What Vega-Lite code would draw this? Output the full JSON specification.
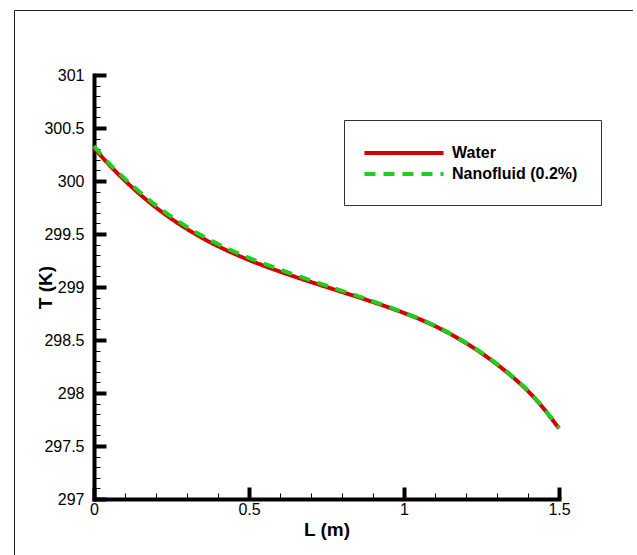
{
  "$schema": "https://vega.github.io/schema/vega-lite/v6.json",
  "width": 619,
  "height": 560,
  "autosize": {"type": "none"},
  "padding": {"left": 14, "top": 10, "right": 0, "bottom": 0},
  "background": "white",
  "config": {
    "view": {"stroke": "#222", "strokeWidth": 1, "fill": "white"},
    "axis": {
      "grid": false,
      "labelFont": "Liberation Sans",
      "labelFontSize": 16,
      "labelColor": "black",
      "titleFont": "Liberation Sans",
      "titleFontSize": 19,
      "titleFontWeight": "bold",
      "titleColor": "black",
      "domainColor": "black",
      "domainWidth": 4,
      "domainCap": "square",
      "tickColor": "black",
      "labelFlush": false,
      "labelOverlap": false
    }
  },
  "data": {
    "values": [
      {"L": 0, "T": 300.31, "series": "Water"},
      {"L": 0.05, "T": 300.15, "series": "Water"},
      {"L": 0.1, "T": 300.003, "series": "Water"},
      {"L": 0.15, "T": 299.87, "series": "Water"},
      {"L": 0.2, "T": 299.75, "series": "Water"},
      {"L": 0.25, "T": 299.643, "series": "Water"},
      {"L": 0.3, "T": 299.547, "series": "Water"},
      {"L": 0.35, "T": 299.461, "series": "Water"},
      {"L": 0.4, "T": 299.385, "series": "Water"},
      {"L": 0.45, "T": 299.317, "series": "Water"},
      {"L": 0.5, "T": 299.255, "series": "Water"},
      {"L": 0.55, "T": 299.198, "series": "Water"},
      {"L": 0.6, "T": 299.145, "series": "Water"},
      {"L": 0.65, "T": 299.095, "series": "Water"},
      {"L": 0.7, "T": 299.047, "series": "Water"},
      {"L": 0.75, "T": 299.0, "series": "Water"},
      {"L": 0.8, "T": 298.953, "series": "Water"},
      {"L": 0.85, "T": 298.906, "series": "Water"},
      {"L": 0.9, "T": 298.858, "series": "Water"},
      {"L": 0.95, "T": 298.808, "series": "Water"},
      {"L": 1.0, "T": 298.755, "series": "Water"},
      {"L": 1.05, "T": 298.697, "series": "Water"},
      {"L": 1.1, "T": 298.631, "series": "Water"},
      {"L": 1.15, "T": 298.556, "series": "Water"},
      {"L": 1.2, "T": 298.471, "series": "Water"},
      {"L": 1.25, "T": 298.376, "series": "Water"},
      {"L": 1.3, "T": 298.27, "series": "Water"},
      {"L": 1.35, "T": 298.152, "series": "Water"},
      {"L": 1.4, "T": 298.018, "series": "Water"},
      {"L": 1.45, "T": 297.855, "series": "Water"},
      {"L": 1.5, "T": 297.665, "series": "Water"},
      {"L": 0, "T": 300.33, "series": "Nanofluid (0.2%)"},
      {"L": 0.05, "T": 300.162, "series": "Nanofluid (0.2%)"},
      {"L": 0.1, "T": 300.02, "series": "Nanofluid (0.2%)"},
      {"L": 0.15, "T": 299.89, "series": "Nanofluid (0.2%)"},
      {"L": 0.2, "T": 299.77, "series": "Nanofluid (0.2%)"},
      {"L": 0.25, "T": 299.663, "series": "Nanofluid (0.2%)"},
      {"L": 0.3, "T": 299.567, "series": "Nanofluid (0.2%)"},
      {"L": 0.35, "T": 299.481, "series": "Nanofluid (0.2%)"},
      {"L": 0.4, "T": 299.405, "series": "Nanofluid (0.2%)"},
      {"L": 0.45, "T": 299.337, "series": "Nanofluid (0.2%)"},
      {"L": 0.5, "T": 299.275, "series": "Nanofluid (0.2%)"},
      {"L": 0.55, "T": 299.218, "series": "Nanofluid (0.2%)"},
      {"L": 0.6, "T": 299.165, "series": "Nanofluid (0.2%)"},
      {"L": 0.65, "T": 299.113, "series": "Nanofluid (0.2%)"},
      {"L": 0.7, "T": 299.062, "series": "Nanofluid (0.2%)"},
      {"L": 0.75, "T": 299.013, "series": "Nanofluid (0.2%)"},
      {"L": 0.8, "T": 298.964, "series": "Nanofluid (0.2%)"},
      {"L": 0.85, "T": 298.915, "series": "Nanofluid (0.2%)"},
      {"L": 0.9, "T": 298.865, "series": "Nanofluid (0.2%)"},
      {"L": 0.95, "T": 298.813, "series": "Nanofluid (0.2%)"},
      {"L": 1.0, "T": 298.759, "series": "Nanofluid (0.2%)"},
      {"L": 1.05, "T": 298.701, "series": "Nanofluid (0.2%)"},
      {"L": 1.1, "T": 298.635, "series": "Nanofluid (0.2%)"},
      {"L": 1.15, "T": 298.56, "series": "Nanofluid (0.2%)"},
      {"L": 1.2, "T": 298.475, "series": "Nanofluid (0.2%)"},
      {"L": 1.25, "T": 298.38, "series": "Nanofluid (0.2%)"},
      {"L": 1.3, "T": 298.274, "series": "Nanofluid (0.2%)"},
      {"L": 1.35, "T": 298.156, "series": "Nanofluid (0.2%)"},
      {"L": 1.4, "T": 298.022, "series": "Nanofluid (0.2%)"},
      {"L": 1.45, "T": 297.859, "series": "Nanofluid (0.2%)"},
      {"L": 1.5, "T": 297.669, "series": "Nanofluid (0.2%)"}
    ]
  },
  "mark": {"type": "line", "interpolate": "monotone", "strokeWidth": 4, "clip": false},
  "encoding": {
    "x": {
      "field": "L",
      "type": "quantitative",
      "scale": {"domain": [0, 1.5], "range": [80, 545], "nice": false, "zero": false},
      "axis": {
        "orient": "bottom",
        "offset": -71,
        "values": [0, 0.1, 0.2, 0.3, 0.4, 0.5, 0.6, 0.7, 0.8, 0.9, 1, 1.1, 1.2, 1.3, 1.4, 1.5],
        "format": "~g",
        "labelExpr": "abs(datum.value*2-round(datum.value*2))<1e-6 ? datum.label : ''",
        "labelFontSize": 16,
        "tickSize": {"condition": {"test": "abs(datum.value*2-round(datum.value*2))<1e-6", "value": -12}, "value": -6},
        "tickWidth": {"condition": {"test": "abs(datum.value*2-round(datum.value*2))<1e-6", "value": 4}, "value": 1},
        "labelPadding": 14,
        "title": "L (m)",
        "titleBaseline": "alphabetic",
        "titleY": 36
      }
    },
    "y": {
      "field": "T",
      "type": "quantitative",
      "scale": {"domain": [297, 301], "range": [489, 65], "nice": false, "zero": false},
      "axis": {
        "orient": "left",
        "offset": -80,
        "values": [297, 297.1, 297.2, 297.3, 297.4, 297.5, 297.6, 297.7, 297.8, 297.9, 298, 298.1, 298.2, 298.3, 298.4, 298.5, 298.6, 298.7, 298.8, 298.9, 299, 299.1, 299.2, 299.3, 299.4, 299.5, 299.6, 299.7, 299.8, 299.9, 300, 300.1, 300.2, 300.3, 300.4, 300.5, 300.6, 300.7, 300.8, 300.9, 301],
        "format": "~g",
        "labelExpr": "abs(datum.value*2-round(datum.value*2))<1e-6 ? datum.label : ''",
        "labelFontSize": 16,
        "tickSize": {"condition": {"test": "abs(datum.value*2-round(datum.value*2))<1e-6", "value": -12}, "value": -6},
        "tickWidth": {"condition": {"test": "abs(datum.value*2-round(datum.value*2))<1e-6", "value": 4}, "value": 1},
        "labelPadding": 22,
        "title": "T (K)",
        "titleX": -49,
        "titleBaseline": "middle"
      }
    },
    "color": {
      "field": "series",
      "type": "nominal",
      "scale": {"domain": ["Water", "Nanofluid (0.2%)"], "range": ["#d40000", "#1ecf1e"]},
      "legend": {
        "orient": "none",
        "legendX": 330,
        "legendY": 110,
        "title": null,
        "strokeColor": "#333",
        "fillColor": "white",
        "padding": 23,
        "labelFont": "Liberation Sans",
        "labelFontSize": 16,
        "labelFontWeight": "bold",
        "labelColor": "black",
        "symbolType": "M-5,0H5",
        "symbolSize": 250,
        "symbolStrokeWidth": 4,
        "symbolOffset": 27,
        "labelOffset": 38,
        "rowPadding": 3
      }
    },
    "strokeDash": {
      "field": "series",
      "type": "nominal",
      "scale": {"domain": ["Water", "Nanofluid (0.2%)"], "range": [[1, 0], [11, 8]]},
      "legend": {
        "orient": "none",
        "legendX": 330,
        "legendY": 110,
        "title": null,
        "strokeColor": "#333",
        "fillColor": "white",
        "padding": 23,
        "labelFont": "Liberation Sans",
        "labelFontSize": 16,
        "labelFontWeight": "bold",
        "labelColor": "black",
        "symbolType": "M-5,0H5",
        "symbolSize": 250,
        "symbolStrokeWidth": 4,
        "symbolOffset": 27,
        "labelOffset": 38,
        "rowPadding": 3
      }
    }
  }
}
